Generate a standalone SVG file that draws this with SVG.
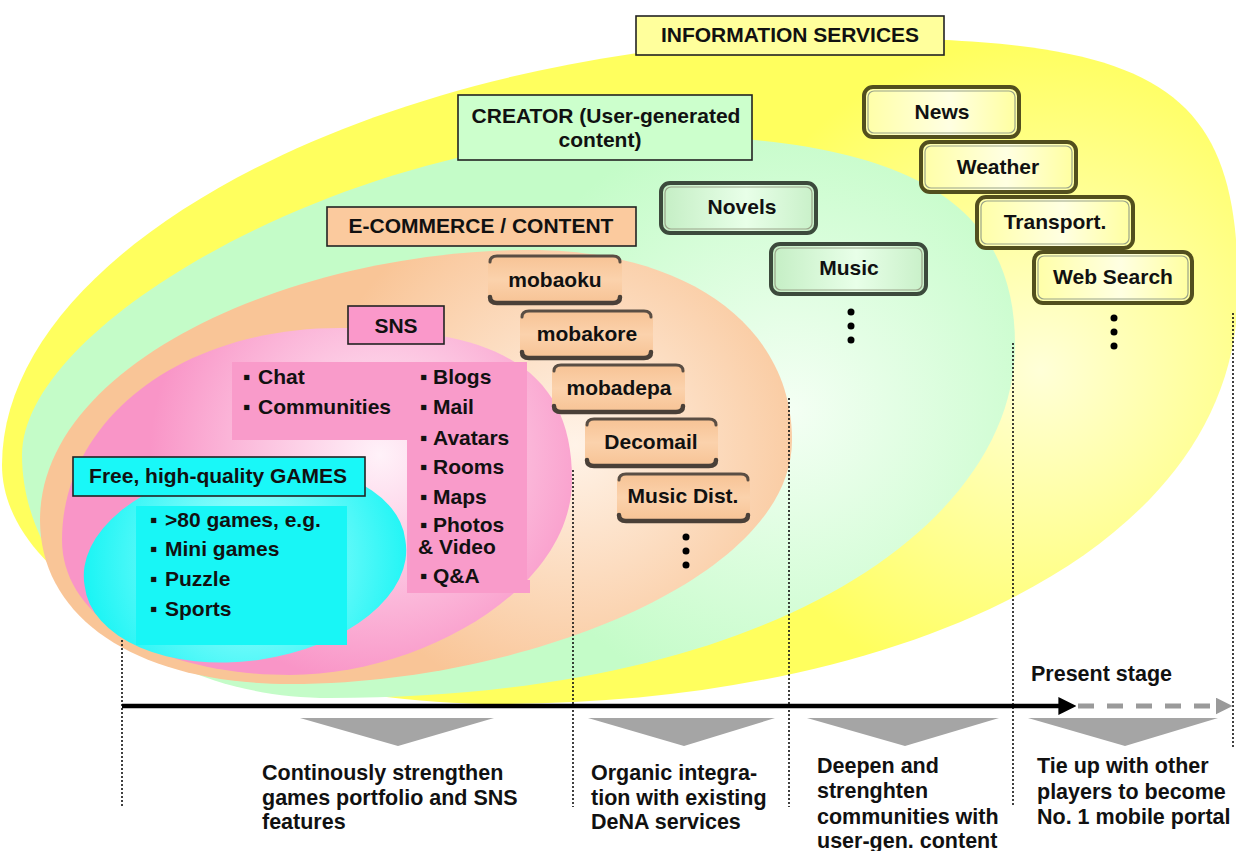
<svg xmlns="http://www.w3.org/2000/svg" width="1236" height="851" viewBox="0 0 1236 851">
<defs>
<radialGradient id="gY" gradientUnits="userSpaceOnUse" cx="1040" cy="370" r="330">
<stop offset="0" stop-color="#FFFFD8"/><stop offset="1" stop-color="#FFFF5E"/></radialGradient>
<radialGradient id="gG" gradientUnits="userSpaceOnUse" cx="790" cy="410" r="300">
<stop offset="0" stop-color="#F4FFF4"/><stop offset="1" stop-color="#C4FCC8"/></radialGradient>
<radialGradient id="gO" gradientUnits="userSpaceOnUse" cx="575" cy="445" r="260">
<stop offset="0" stop-color="#FFF3E8"/><stop offset="1" stop-color="#F9C597"/></radialGradient>
<radialGradient id="gP" gradientUnits="userSpaceOnUse" cx="380" cy="455" r="230">
<stop offset="0" stop-color="#FFF2F9"/><stop offset="1" stop-color="#F995C7"/></radialGradient>
<radialGradient id="gC" gradientUnits="userSpaceOnUse" cx="250" cy="560" r="175">
<stop offset="0" stop-color="#B8FFFF"/><stop offset="1" stop-color="#12F4F4"/></radialGradient>
<linearGradient id="gIt" x1="0" y1="0" x2="1" y2="0">
<stop offset="0" stop-color="#C4EEC4"/><stop offset="0.55" stop-color="#E8FFE8"/><stop offset="1" stop-color="#C8F0C8"/></linearGradient>
<linearGradient id="yIt" x1="0" y1="0" x2="1" y2="0">
<stop offset="0" stop-color="#FFFFA6"/><stop offset="0.55" stop-color="#FFFFE2"/><stop offset="1" stop-color="#FFFF9E"/></linearGradient>
<linearGradient id="pIt" x1="0" y1="0" x2="0" y2="1">
<stop offset="0" stop-color="#F7C395"/><stop offset="0.5" stop-color="#FBD2AC"/><stop offset="1" stop-color="#F7C395"/></linearGradient>
<marker id="ahB" viewBox="0 0 10 10" refX="2" refY="5" markerWidth="4" markerHeight="4" orient="auto" markerUnits="strokeWidth"><path d="M0,0 L10,5 L0,10 z" fill="#000"/></marker>
<marker id="ahG" viewBox="0 0 10 10" refX="2" refY="5" markerWidth="3.4" markerHeight="3.4" orient="auto" markerUnits="strokeWidth"><path d="M0,0 L10,5 L0,10 z" fill="#9A9A9A"/></marker>
<style>
.t{font-family:"Liberation Sans",Arial,"DejaVu Sans",sans-serif;font-weight:bold;font-size:21px;fill:#111}
.c{text-anchor:middle}
.b{font-size:21.5px}
.lbl{stroke:#222;stroke-width:1.6}
.vl{stroke:#111;stroke-width:1.6;stroke-dasharray:2 2;fill:none}
.gbox{fill:url(#gIt);stroke:#3c4a3c;stroke-width:4}
.ybox{fill:url(#yIt);stroke:#524f1e;stroke-width:4}
.inn{fill:none;stroke:#9aa48a;stroke-width:1.2}
.pbox{fill:url(#pIt)}
.ptop{fill:none;stroke:#5a4e44;stroke-width:3;stroke-linecap:round}
.pbot{fill:none;stroke:#4a4038;stroke-width:4.5;stroke-linecap:round}
.chev{fill:#A5A5A5}
.dot{fill:#000}
</style>
</defs>
<rect width="1236" height="851" fill="#fff"/>

<g id="regions">
<path id="region-info" fill="url(#gY)" d="M2,465 C2,240 400,38 850,38 C1160,38 1238,88 1238,290 C1238,560 880,704 500,704 C250,704 2,600 2,465 Z"/>
<path id="region-creator" fill="url(#gG)" d="M22,455 C22,320 360,135 640,135 C902,135 1015,198 1015,345 C1015,520 780,698 330,698 C150,698 22,580 22,455 Z"/>
<path id="region-ecommerce" fill="url(#gO)" d="M40,520 C40,360 300,250 530,250 C687,250 792,326 792,440 C792,580 520,684 290,684 C140,684 40,620 40,520 Z"/>
<path id="region-sns" fill="url(#gP)" d="M62,540 C62,420 180,328 340,328 C500,328 572,370 572,480 C572,590 420,675 290,675 C160,675 62,620 62,540 Z"/>
<path id="sns-panel" fill="#F99BCA" d="M232,362 H527 V580 H530 V593 H407 V440 H232 Z"/>
<path id="region-games" fill="url(#gC)" d="M84.6,585.5 A162,96 -8 1,1 405.4,540.5 A162,96 -8 1,1 84.6,585.5 Z"/>
<rect id="games-panel" x="136" y="506" width="211" height="139" fill="#18F6F6"/>
</g>

<g id="connectors">
<line class="vl" x1="122" y1="640" x2="122" y2="807"/>
<line class="vl" x1="573" y1="470" x2="573" y2="807"/>
<line class="vl" x1="789" y1="398" x2="789" y2="807"/>
<line class="vl" x1="1013" y1="343" x2="1013" y2="806"/>
<line class="vl" x1="1233" y1="313" x2="1233" y2="748"/>
<line x1="122" y1="706" x2="1062" y2="706" stroke="#000" stroke-width="4.5" marker-end="url(#ahB)"/>
<line x1="1078" y1="706" x2="1219" y2="706" stroke="#9A9A9A" stroke-width="5" stroke-dasharray="16 13" marker-end="url(#ahG)"/>
<polygon class="chev" points="300,718 494,718 398,746"/>
<polygon class="chev" points="588,718 775,718 684,746"/>
<polygon class="chev" points="807,718 999,718 905,746"/>
<polygon class="chev" points="1028,718 1218,718 1125,746"/>
</g>

<g id="info-services">
<rect class="lbl" x="636" y="16" width="308" height="39" fill="#FFFF9C"/>
<text class="t c" x="790" y="42">INFORMATION SERVICES</text>
</g>
<g id="creator">
<rect class="lbl" x="458" y="95" width="294" height="65" fill="#CCFFCC"/>
<text class="t c" x="606" y="123">CREATOR (User-generated</text>
<text class="t c" x="600" y="147">content)</text>
</g>
<g id="ecommerce">
<rect class="lbl" x="327" y="207" width="309" height="39" fill="#FBCA9E"/>
<text class="t c" x="481" y="233">E-COMMERCE / CONTENT</text>
</g>
<g id="sns">
<rect class="lbl" x="348" y="306" width="96" height="38" fill="#FA98CA"/>
<text class="t c" x="396" y="333">SNS</text>
</g>
<g id="sns-list" class="t">
<text x="243" y="384">▪<tspan x="258">Chat</tspan></text>
<text x="243" y="414">▪<tspan x="258">Communities</tspan></text>
<text x="420" y="384">▪<tspan x="433">Blogs</tspan></text>
<text x="420" y="414">▪<tspan x="433">Mail</tspan></text>
<text x="420" y="445">▪<tspan x="433">Avatars</tspan></text>
<text x="420" y="474">▪<tspan x="433">Rooms</tspan></text>
<text x="420" y="504">▪<tspan x="433">Maps</tspan></text>
<text x="420" y="532">▪<tspan x="433">Photos</tspan></text>
<text x="418" y="554">&amp; Video</text>
<text x="420" y="583">▪<tspan x="433">Q&amp;A</tspan></text>
</g>
<g id="games">
<rect class="lbl" x="73" y="457" width="292" height="39" fill="#19F8F8"/>
<text class="t c" x="218" y="483">Free, high-quality GAMES</text>
</g>
<g id="games-list" class="t">
<text x="150" y="527">▪<tspan x="165">&gt;80 games, e.g.</tspan></text>
<text x="150" y="556">▪<tspan x="165">Mini games</tspan></text>
<text x="150" y="586">▪<tspan x="165">Puzzle</tspan></text>
<text x="150" y="616">▪<tspan x="165">Sports</tspan></text>
</g>

<g id="mobaoku">
<rect class="pbox" x="488" y="256" width="134" height="47" rx="8"/>
<path class="ptop" d="M490,262 Q490,256 497,256 H613 Q620,256 620,262"/>
<path class="pbot" d="M490,297 Q490,303 497,303 H613 Q620,303 620,297"/>
<text class="t c" x="555" y="287">mobaoku</text>
</g>
<g id="mobakore">
<rect class="pbox" x="520" y="311" width="133" height="47" rx="8"/>
<path class="ptop" d="M522,317 Q522,311 529,311 H644 Q651,311 651,317"/>
<path class="pbot" d="M522,352 Q522,358 529,358 H644 Q651,358 651,352"/>
<text class="t c" x="587" y="341">mobakore</text>
</g>
<g id="mobadepa">
<rect class="pbox" x="552" y="365" width="133" height="47" rx="8"/>
<path class="ptop" d="M554,371 Q554,365 561,365 H676 Q683,365 683,371"/>
<path class="pbot" d="M554,406 Q554,412 561,412 H676 Q683,412 683,406"/>
<text class="t c" x="619" y="395">mobadepa</text>
</g>
<g id="decomail">
<rect class="pbox" x="585" y="419" width="133" height="47" rx="8"/>
<path class="ptop" d="M587,425 Q587,419 594,419 H709 Q716,419 716,425"/>
<path class="pbot" d="M587,460 Q587,466 594,466 H709 Q716,466 716,460"/>
<text class="t c" x="651" y="449">Decomail</text>
</g>
<g id="music-dist">
<rect class="pbox" x="617" y="474" width="133" height="47" rx="8"/>
<path class="ptop" d="M619,480 Q619,474 626,474 H741 Q748,474 748,480"/>
<path class="pbot" d="M619,515 Q619,521 626,521 H741 Q748,521 748,515"/>
<text class="t c" x="683" y="503">Music Dist.</text>
</g>
<g id="ecommerce-more">
<circle class="dot" cx="686" cy="537" r="3.5"/><circle class="dot" cx="686" cy="551" r="3.5"/><circle class="dot" cx="686" cy="565" r="3.5"/>
</g>

<g id="novels">
<rect class="gbox" x="661" y="183" width="155" height="50" rx="9"/>
<rect class="inn" x="665" y="187" width="147" height="42" rx="6"/>
<text class="t c" x="742" y="214">Novels</text>
</g>
<g id="music">
<rect class="gbox" x="771" y="244" width="155" height="50" rx="9"/>
<rect class="inn" x="775" y="248" width="147" height="42" rx="6"/>
<text class="t c" x="849" y="275">Music</text>
</g>
<g id="creator-more">
<circle class="dot" cx="851" cy="312" r="3.5"/><circle class="dot" cx="851" cy="326" r="3.5"/><circle class="dot" cx="851" cy="340" r="3.5"/>
</g>

<g id="news">
<rect class="ybox" x="864" y="87" width="155" height="50" rx="9"/>
<rect class="inn" x="868" y="91" width="147" height="42" rx="6"/>
<text class="t c" x="942" y="119">News</text>
</g>
<g id="weather">
<rect class="ybox" x="921" y="142" width="155" height="50" rx="9"/>
<rect class="inn" x="925" y="146" width="147" height="42" rx="6"/>
<text class="t c" x="998" y="174">Weather</text>
</g>
<g id="transport">
<rect class="ybox" x="977" y="197" width="156" height="51" rx="9"/>
<rect class="inn" x="981" y="201" width="148" height="43" rx="6"/>
<text class="t c" x="1055" y="229">Transport.</text>
</g>
<g id="web-search">
<rect class="ybox" x="1034" y="252" width="158" height="51" rx="9"/>
<rect class="inn" x="1038" y="256" width="150" height="43" rx="6"/>
<text class="t c" x="1113" y="284">Web Search</text>
</g>
<g id="info-more">
<circle class="dot" cx="1114" cy="318" r="3.5"/><circle class="dot" cx="1114" cy="332" r="3.5"/><circle class="dot" cx="1114" cy="346" r="3.5"/>
</g>

<g id="present-stage"><text class="t b" x="1031" y="681">Present stage</text></g>
<g id="stage1" class="t b">
<text x="262" y="780">Continously strengthen</text>
<text x="262" y="805">games portfolio and SNS</text>
<text x="262" y="829">features</text>
</g>
<g id="stage2" class="t b">
<text x="591" y="780">Organic integra-</text>
<text x="591" y="805">tion with existing</text>
<text x="591" y="829">DeNA services</text>
</g>
<g id="stage3" class="t b">
<text x="817" y="773">Deepen and</text>
<text x="817" y="798">strenghten</text>
<text x="817" y="824">communities with</text>
<text x="817" y="848">user-gen. content</text>
</g>
<g id="stage4" class="t b">
<text x="1037" y="773">Tie up with other</text>
<text x="1037" y="799">players to become</text>
<text x="1037" y="824">No. 1 mobile portal</text>
</g>
</svg>
